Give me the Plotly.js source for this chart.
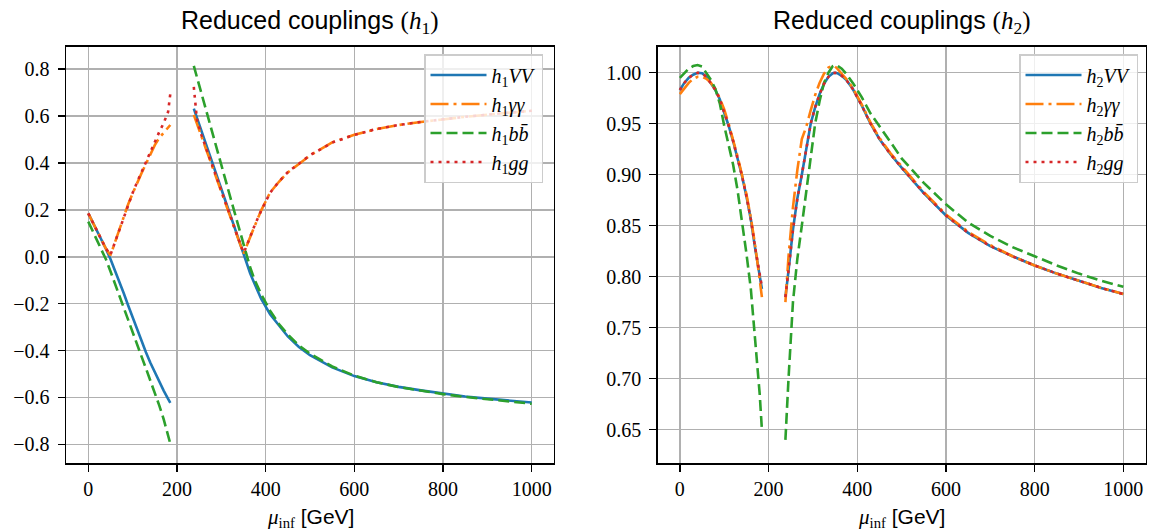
<!DOCTYPE html>
<html>
<head>
<meta charset="utf-8">
<script src="https://cdn.plot.ly/plotly-3.0.1.min.js"></script>
<style>
html,body{margin:0;padding:0;background:#fff;}
#chart{width:1149px;height:532px;}
</style>
</head>
<body>
<div id="chart"></div>
<script>
// mu_inf grid [GeV]; null marks the gap between the two branches
const mu = [0,10,20,30,40,50,60,70,80,90,100,110,120,130,140,150,160,170,180,185,null,
  238,241,245,255,265,275,285,295,305,315,325,335,345,350,355,365,375,390,410,430,450,475,500,550,600,650,700,750,800,850,900,950,1000];

// h1 reduced couplings
const h1VV = [0.185,0.148,0.111,0.073,0.033,-0.01,-0.056,-0.105,-0.156,-0.208,-0.26,-0.311,-0.36,-0.407,-0.452,-0.494,-0.534,-0.571,-0.606,-0.623,null,
  0.632,0.615,0.593,0.538,0.483,0.428,0.373,0.318,0.263,0.207,0.152,0.096,0.04,0.01,-0.018,-0.07,-0.115,-0.18,-0.245,-0.295,-0.34,-0.385,-0.42,-0.472,-0.509,-0.535,-0.555,-0.57,-0.584,-0.596,-0.605,-0.614,-0.622];
const h1gamgam = [0.185,0.148,0.111,0.073,0.034,0.006,0.063,0.117,0.17,0.224,0.27,0.316,0.356,0.396,0.438,0.476,0.507,0.531,0.551,0.562,null,
  0.605,0.59,0.568,0.515,0.462,0.41,0.357,0.305,0.252,0.2,0.147,0.093,0.038,0.014,0.036,0.085,0.13,0.198,0.274,0.32,0.36,0.396,0.432,0.488,0.52,0.545,0.562,0.575,0.587,0.597,0.606,0.615,0.623];
const h1bb = [0.15,0.11,0.07,0.03,-0.012,-0.062,-0.115,-0.168,-0.22,-0.272,-0.323,-0.374,-0.425,-0.476,-0.527,-0.579,-0.634,-0.693,-0.757,-0.797,null,
  0.814,0.793,0.766,0.698,0.63,0.562,0.494,0.426,0.358,0.29,0.222,0.154,0.086,0.052,0.018,-0.045,-0.098,-0.16,-0.23,-0.287,-0.332,-0.378,-0.413,-0.468,-0.507,-0.535,-0.556,-0.572,-0.586,-0.598,-0.608,-0.618,-0.627];
const h1gg = [0.185,0.148,0.111,0.073,0.034,0.008,0.062,0.116,0.17,0.224,0.272,0.318,0.362,0.405,0.448,0.49,0.532,0.57,0.618,0.695,null,
  0.725,0.655,0.585,0.52,0.468,0.414,0.36,0.307,0.255,0.202,0.15,0.095,0.04,0.018,0.036,0.086,0.133,0.197,0.273,0.321,0.361,0.397,0.433,0.487,0.52,0.545,0.562,0.575,0.587,0.597,0.606,0.615,0.623];

// h2 reduced couplings
const h2VV = [0.983,0.99,0.995,0.998,1.0,0.9995,0.996,0.99,0.983,0.974,0.962,0.948,0.933,0.916,0.899,0.879,0.856,0.827,0.8,0.788,null,
  0.78,0.79,0.806,0.846,0.877,0.9,0.926,0.95,0.966,0.979,0.989,0.996,0.9995,1.0,0.9995,0.997,0.993,0.984,0.968,0.95,0.935,0.92,0.907,0.882,0.86,0.843,0.83,0.82,0.811,0.803,0.796,0.789,0.783];
const h2gamgam = [0.979,0.985,0.99,0.994,0.996,0.996,0.994,0.99,0.984,0.975,0.964,0.95,0.935,0.918,0.9,0.881,0.858,0.83,0.797,0.78,null,
  0.775,0.795,0.82,0.868,0.905,0.935,0.947,0.963,0.978,0.99,0.999,1.005,1.007,1.006,1.004,0.999,0.994,0.985,0.969,0.951,0.936,0.921,0.908,0.883,0.861,0.844,0.831,0.82,0.811,0.803,0.796,0.789,0.783];
const h2bb = [0.995,1.0,1.004,1.0065,1.0075,1.006,1.0,0.993,0.984,0.97,0.948,0.93,0.91,0.885,0.855,0.823,0.788,0.738,0.685,0.65,null,
  0.64,0.668,0.7,0.775,0.818,0.85,0.882,0.915,0.95,0.972,0.99,1.0,1.0065,1.0075,1.007,1.004,0.999,0.99,0.976,0.96,0.947,0.932,0.916,0.892,0.871,0.853,0.84,0.829,0.82,0.811,0.803,0.796,0.79];
const h2gg = [0.983,0.99,0.995,0.998,1.0,0.9995,0.996,0.99,0.983,0.974,0.962,0.948,0.933,0.916,0.899,0.879,0.856,0.828,0.801,0.79,null,
  0.78,0.79,0.806,0.846,0.877,0.9,0.926,0.95,0.966,0.979,0.989,0.996,0.9995,1.0,0.9995,0.997,0.993,0.984,0.968,0.95,0.935,0.92,0.907,0.882,0.86,0.843,0.83,0.82,0.811,0.803,0.796,0.789,0.783];

// ticks and labels
const xTicks = [0,200,400,600,800,1000];
const y1Ticks = [-0.8,-0.6,-0.4,-0.2,0.0,0.2,0.4,0.6,0.8];
const y1Labels = ['\u22120.8','\u22120.6','\u22120.4','\u22120.2','0.0','0.2','0.4','0.6','0.8'];
const y2Ticks = [0.65,0.70,0.75,0.80,0.85,0.90,0.95,1.00];
const y2Labels = ['0.65','0.70','0.75','0.80','0.85','0.90','0.95','1.00'];

const names1 = ['<i>h</i><sub>1</sub><i>VV</i>','<i>h</i><sub>1</sub><i>γγ</i>','<i>h</i><sub>1</sub><i>bb\u0304</i>','<i>h</i><sub>1</sub><i>gg</i>'];
const names2 = ['<i>h</i><sub>2</sub><i>VV</i>','<i>h</i><sub>2</sub><i>γγ</i>','<i>h</i><sub>2</sub><i>bb\u0304</i>','<i>h</i><sub>2</sub><i>gg</i>'];

const colors = ['#1f77b4','#ff7f0e','#2ca02c','#d62728'];
const dashes = ['solid','18px,5px,3px,5px','11px,5px','3px,5px'];
const LW = 2.6;

const traces = [];
[h1VV,h1gamgam,h1bb,h1gg].forEach((y,i)=>traces.push({
  x: mu, y: y, xaxis:'x', yaxis:'y', mode:'lines', name:names1[i],
  line:{color:colors[i], width:LW, dash:dashes[i]}, legend:'legend', legendgroup:'a'+i, connectgaps:false
}));
[h2VV,h2gamgam,h2bb,h2gg].forEach((y,i)=>traces.push({
  x: mu, y: y, xaxis:'x2', yaxis:'y2', mode:'lines', name:names2[i],
  line:{color:colors[i], width:LW, dash:dashes[i]}, legend:'legend2', legendgroup:'b'+i, connectgaps:false
}));

const W = 1149, H = 532;
const SERIF = 'Liberation Serif';
const SANS = 'Liberation Sans';
function tf(){ return {family:SERIF, size:20, color:'#000'}; }
function xa(dom, anchor){
  return {domain:dom, anchor:anchor, range:[-50,1050], tickvals:xTicks, ticktext:xTicks.map(String),
    ticks:'outside', ticklen:7, tickwidth:1.5, tickcolor:'#000', showline:true, mirror:true,
    linecolor:'#000', linewidth:1.5, showgrid:true, gridcolor:'#b0b0b0', gridwidth:1.5,
    zeroline:false, tickfont:tf(), automargin:false};
}
function ya(dom, anchor, range, tv, tt){
  return {domain:dom, anchor:anchor, range:range, tickvals:tv, ticktext:tt,
    ticks:'outside', ticklen:7, tickwidth:1.5, tickcolor:'#000', showline:true, mirror:true,
    linecolor:'#000', linewidth:1.5, showgrid:true, gridcolor:'#b0b0b0', gridwidth:1.5,
    zeroline:false, tickfont:tf(), automargin:false, ticklabelstandoff:4};
}
const yDom = [(H-463.3)/H, (H-46.7)/H];
const dom1 = [66.1/W, 553.9/W];
const dom2 = [657.7/W, 1145.5/W];
const legendStyle = (xr)=>({x:xr/W, y:(H-54)/H, xanchor:'right', yanchor:'top', xref:'paper', yref:'paper',
  bgcolor:'rgba(255,255,255,0.8)', bordercolor:'#cccccc', borderwidth:1.5,
  font:{family:SERIF, size:20, color:'#000'}, tracegroupgap:0, itemwidth:56});

const serifSpan = "font-family:'Liberation Serif'";
const layout = {
  width:W, height:H, margin:{l:0,r:0,t:0,b:0}, paper_bgcolor:'#fff', plot_bgcolor:'#fff',
  showlegend:true,
  xaxis: xa(dom1,'y'), yaxis: ya(yDom,'x',[-0.881,0.896],y1Ticks,y1Labels),
  xaxis2: xa(dom2,'y2'), yaxis2: ya(yDom,'x2',[0.617,1.0255],y2Ticks,y2Labels),
  legend: legendStyle(543), legend2: legendStyle(1138),
  annotations:[
    {xref:'paper', yref:'paper', x:(dom1[0]+dom1[1])/2, y:(H-22)/H, xanchor:'center', yanchor:'middle', showarrow:false,
     text:'Reduced couplings <span style="'+serifSpan+'">(<i>h</i><sub>1</sub>)</span>', font:{family:SANS, size:25, color:'#000'}},
    {xref:'paper', yref:'paper', x:(dom2[0]+dom2[1])/2, y:(H-22)/H, xanchor:'center', yanchor:'middle', showarrow:false,
     text:'Reduced couplings <span style="'+serifSpan+'">(<i>h</i><sub>2</sub>)</span>', font:{family:SANS, size:25, color:'#000'}},
    {xref:'paper', yref:'paper', x:(dom1[0]+dom1[1])/2, y:(H-518)/H, xanchor:'center', yanchor:'middle', showarrow:false,
     text:'<span style="'+serifSpan+'"><i>μ</i><sub>inf</sub></span> [GeV]', font:{family:SANS, size:21, color:'#000'}},
    {xref:'paper', yref:'paper', x:(dom2[0]+dom2[1])/2, y:(H-518)/H, xanchor:'center', yanchor:'middle', showarrow:false,
     text:'<span style="'+serifSpan+'"><i>μ</i><sub>inf</sub></span> [GeV]', font:{family:SANS, size:21, color:'#000'}}
  ]
};
Plotly.newPlot('chart', traces, layout, {displayModeBar:false, staticPlot:true});
</script>
</body>
</html>
